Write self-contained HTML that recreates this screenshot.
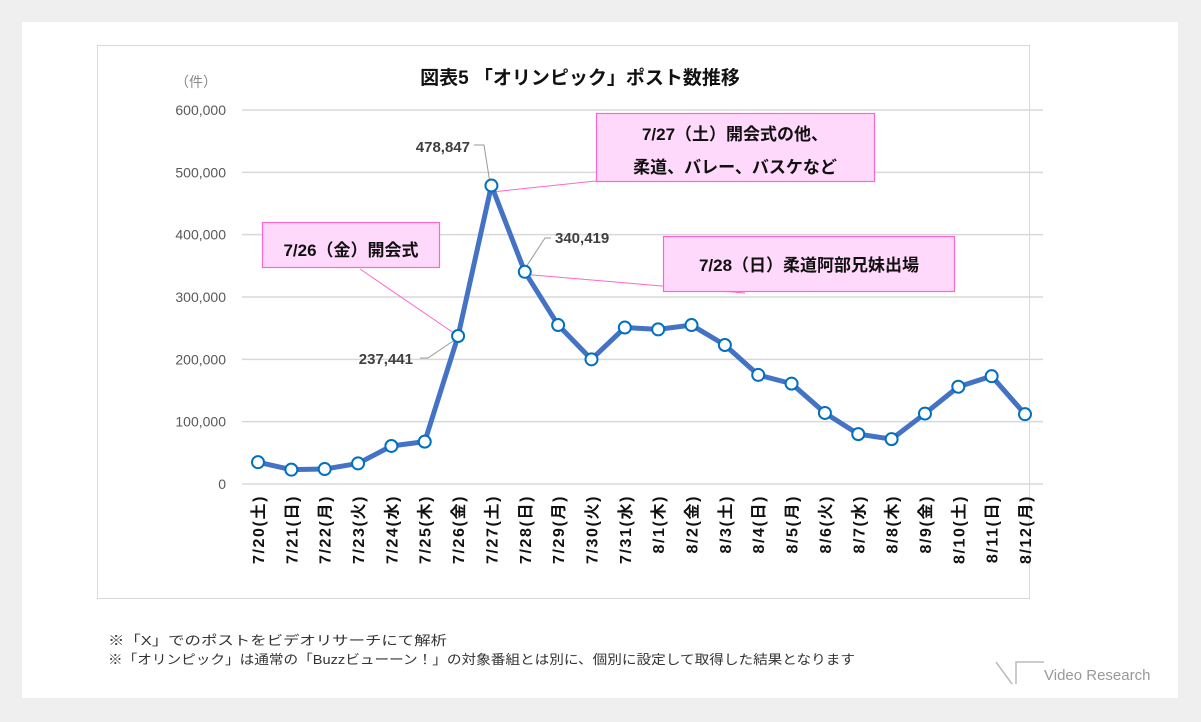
<!DOCTYPE html>
<html><head><meta charset="utf-8"><style>
html,body{margin:0;padding:0;background:#efefef;}
body{width:1201px;height:722px;position:relative;overflow:hidden;font-family:"Liberation Sans","Noto Sans CJK JP",sans-serif;}
</style></head><body>
<svg width="1201" height="722" xmlns="http://www.w3.org/2000/svg" style="position:absolute;left:0;top:0" font-family="Liberation Sans, Noto Sans CJK JP, sans-serif">
<rect x="22" y="22" width="1156" height="676" fill="#fff"/>
<rect x="97.5" y="45.5" width="932" height="553" fill="#fff" stroke="#d9d9d9"/>
<text x="580" y="84" text-anchor="middle" font-size="19" font-weight="bold" fill="#111">図表5 「オリンピック」ポスト数推移</text>
<text x="196" y="87" text-anchor="middle" font-size="14" fill="#888">（件）</text>
<g id="grid"></g>
<g id="xlabels"></g>
<g id="leaders"></g>
<path id="line" fill="none" stroke="#4472c4" stroke-width="5" stroke-linejoin="round"/>
<g id="points"></g>
<g id="callouts"></g>
<text x="108" y="645" font-size="13" fill="#333" textLength="339" lengthAdjust="spacingAndGlyphs">※「X」でのポストをビデオリサーチにて解析</text>
<text x="108" y="664" font-size="13" fill="#333" textLength="747" lengthAdjust="spacingAndGlyphs">※「オリンピック」は通常の「Buzzビューーン！」の対象番組とは別に、個別に設定して取得した結果となります</text>
<g>
<path d="M996 662 L1012 684 M1016 684 L1016 662 L1044 662" stroke="#bbb" stroke-width="1.5" fill="none"/>
<text x="1044" y="680" font-size="15" fill="#999">Video Research</text>
</g>
</svg>
<script>
const categories=["7/20(土)","7/21(日)","7/22(月)","7/23(火)","7/24(水)","7/25(木)","7/26(金)","7/27(土)","7/28(日)","7/29(月)","7/30(火)","7/31(水)","8/1(木)","8/2(金)","8/3(土)","8/4(日)","8/5(月)","8/6(火)","8/7(水)","8/8(木)","8/9(金)","8/10(土)","8/11(日)","8/12(月)"];
const values=[35000,23000,24000,33000,61000,68000,237441,478847,340419,255000,200000,251000,248000,255000,223000,175000,161000,114000,80000,72000,113000,156000,173000,112000];
const yTicks=[0,100000,200000,300000,400000,500000,600000];
const NS="http://www.w3.org/2000/svg";
const x0=258,x1=1025,yBase=484,yTop=110,yMax=600000;
const xs=i=>x0+(x1-x0)*i/(categories.length-1);
const ys=v=>yBase-(yBase-yTop)*v/yMax;
function mk(t,a,p){const e=document.createElementNS(NS,t);for(const k in a)e.setAttribute(k,a[k]);p.appendChild(e);return e;}
const grid=document.getElementById('grid');
yTicks.forEach(t=>{
  const l=mk('line',{x1:242,x2:1043,y1:ys(t),y2:ys(t),stroke:'#d9d9d9','stroke-width':1.5},grid);
  
  
  const tx=mk('text',{x:226,y:ys(t)+5,'text-anchor':'end','font-size':14,fill:'#595959'},grid);
  tx.textContent=t.toLocaleString('en-US');
  
  
});
const xl=document.getElementById('xlabels');
categories.forEach((c,i)=>{
  const t=mk('text',{x:0,y:0,transform:`translate(${xs(i)+6},495) rotate(-90)`,'text-anchor':'end','font-size':16,'letter-spacing':1.6,'font-weight':'bold',fill:'#111'},xl);
  t.textContent=c;
  
  
});
document.getElementById('line').setAttribute('d',values.map((v,i)=>(i?'L':'M')+xs(i)+' '+ys(v)).join(' '));
const pts=document.getElementById('points');
values.forEach((v,i)=>{
  const c=mk('circle',{cx:xs(i),cy:ys(v),r:6,fill:'#fff',stroke:'#0070c0','stroke-width':2},pts);
  
  
});
const ld=document.getElementById('leaders');
function pl(d,col,nm){const p=mk('path',{d:d,stroke:col,fill:'none','stroke-width':1},ld);}
const p6=[xs(6),ys(values[6])],p7=[xs(7),ys(values[7])],p8=[xs(8),ys(values[8])];
pl(`M474 145 L484 145 L${p7[0]-2} ${p7[1]-6}`,'#999','label-leader-peak');
pl(`M551 238 L545 238 L${p8[0]+2} ${p8[1]-6}`,'#999','label-leader-0728');
pl(`M420 358 L428 358 L${p6[0]-2} ${p6[1]+3}`,'#999','label-leader-0726');
pl(`M360 269 L${p6[0]} ${p6[1]}`,'#ff66cc','callout-leader-0726');
pl(`M${p7[0]+5} ${p7[1]+6} L700 170`,'#ff66cc','callout-leader-0727');
pl(`M${p8[0]+5} ${p8[1]+3} L745 293`,'#ff66cc','callout-leader-0728');
const lb=document.getElementById('callouts');
function txt(x,y,s,anc,size,col,nm){const t=mk('text',{x:x,y:y,'text-anchor':anc,'font-size':size,'font-weight':'bold',fill:col},lb);t.textContent=s;}
txt(470,152,values[7].toLocaleString('en-US'),'end',15,'#404040','value-label-peak');
txt(555,243,values[8].toLocaleString('en-US'),'start',15,'#404040','value-label-0728');
txt(413,364,values[6].toLocaleString('en-US'),'end',15,'#404040','value-label-0726');
function box(x,y,w,h,nm){const r=mk('rect',{x:x,y:y,width:w,height:h,fill:'#ffd9fb',stroke:'#ff66cc','stroke-width':1.2},lb);}
box(262.5,222.5,177,45,'callout-box-0726');
txt(351,256,'7/26（金）開会式','middle',17,'#111','callout-text-0726');
box(596.5,113.5,278,68,'callout-box-0727');
txt(735,140,'7/27（土）開会式の他、','middle',17,'#111','callout-text-0727-line1');
txt(735,173,'柔道、バレー、バスケなど','middle',17,'#111','callout-text-0727-line2');
box(663.5,236.5,291,55,'callout-box-0728');
txt(809,271,'7/28（日）柔道阿部兄妹出場','middle',17,'#111','callout-text-0728');
</script>
</body></html>
